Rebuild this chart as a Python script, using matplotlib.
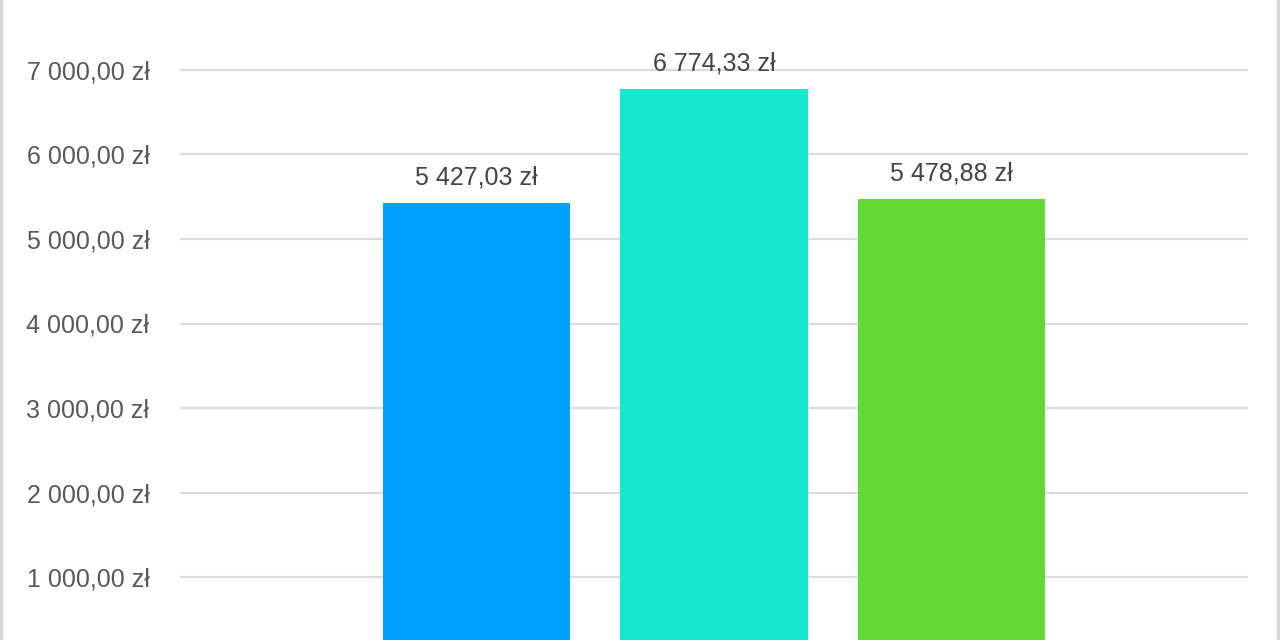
import matplotlib.pyplot as plt
from matplotlib.patches import Rectangle

plt.rcParams['font.family'] = ['Liberation Sans', 'DejaVu Sans']

# dane
kategorie = ['A', 'B', 'C']
wartosci = [5427.03, 6774.33, 5478.88]
kolory = ['#00A2FF', '#16E7CF', '#61D836']
ticki = [1000, 2000, 3000, 4000, 5000, 6000, 7000]


def zl(v):
    s = f'{v:,.2f}'.replace(',', ' ').replace('.', ',')
    return s + ' zł'


fig = plt.figure(figsize=(12.8, 6.4), dpi=100)
# os wychodzi poza dol obrazka (0 zl jest ucięte)
ax = fig.add_axes([180 / 1280, -21.5 / 640, 1068 / 1280, 641.5 / 640])

x = range(len(kategorie))
bars = ax.bar(x, wartosci, width=0.79, color=kolory, zorder=2)

ax.set_xlim(-1.25, 3.25)
ax.set_ylim(0, 641.5 / 84.5 * 1000)
ax.set_yticks(ticki)
ax.set_yticklabels([zl(t) for t in ticki])
ax.tick_params(axis='y', length=0, pad=22, labelsize=18, labelcolor='#595959')
ax.set_xticks([])
ax.grid(axis='y', color='#dcdcdc', linewidth=1.6, zorder=0)
for s in ax.spines.values():
    s.set_visible(False)

for b, v in zip(bars, wartosci):
    ax.annotate(zl(v), (b.get_x() + b.get_width() / 2, v), xytext=(0, 9.5),
                textcoords='offset points', ha='center', va='bottom',
                fontsize=18, color='#444444', zorder=3)

# ramka po bokach
fig.patches.append(Rectangle((0, 0), 2 / 1280, 1, transform=fig.transFigure,
                             color='#d6d6d6', zorder=5))
fig.patches.append(Rectangle((1277 / 1280, 0), 2 / 1280, 1, transform=fig.transFigure,
                             color='#d6d6d6', zorder=5))

fig.savefig('out.png', dpi=100)
